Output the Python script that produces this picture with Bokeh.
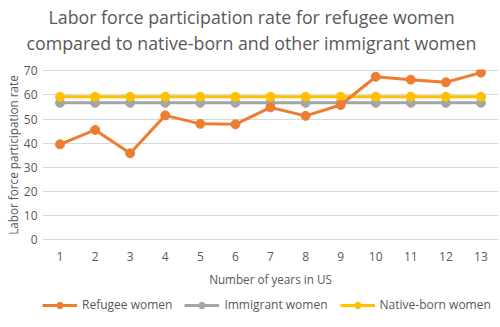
from bokeh.plotting import figure
from bokeh.models import Title, Legend, LegendItem, FixedTicker
from bokeh.layouts import column
from bokeh.embed import file_html
from bokeh.resources import INLINE

years = list(range(1, 14))
refugee = [39.5, 45.5, 35.8, 51.5, 48.0, 47.8, 54.8, 51.3, 55.8, 67.5, 66.3, 65.2, 69.2]
immigrant = [56.7] * 13
native = [59.2] * 13

title_lines = ["Labor force participation rate for refugee women",
               "compared to native-born and other immigrant women"]

FONT = "Open Sans"
TXT = "#595959"

p = figure(frame_width=456, frame_height=171, output_backend="svg", toolbar_location=None,
           x_range=(0.5, 13.5), y_range=(-0.3, 70.5),
           min_border_left=42, min_border_right=2, min_border_top=69, min_border_bottom=57)
p.outline_line_color = None

# spacer between title and plot frame
p.add_layout(Title(text=" ", text_font=FONT, text_font_size="9px", standoff=0), "above")
p.add_layout(Title(text=title_lines[1], align="left", text_font=FONT, text_font_size="17.8px",
                   text_color=TXT, text_font_style="normal", standoff=0, offset=-16), "above")
p.add_layout(Title(text=title_lines[0], align="left", text_font=FONT, text_font_size="17.8px",
                   text_color=TXT, text_font_style="normal", standoff=0, offset=6), "above")

p.xaxis.ticker = FixedTicker(ticks=years)
p.yaxis.ticker = FixedTicker(ticks=list(range(0, 71, 10)))
for ax in (p.xaxis, p.yaxis):
    ax.axis_line_color = None
    ax.major_tick_line_color = None
    ax.minor_tick_line_color = None
    ax.major_tick_out = 0
    ax.major_tick_in = 0
    ax.major_label_text_font = FONT
    ax.major_label_text_font_size = "12px"
    ax.major_label_text_color = TXT
    ax.axis_label_text_font = FONT
    ax.axis_label_text_font_size = "11.7px"
    ax.axis_label_text_color = TXT
    ax.axis_label_text_font_style = "normal"
p.xaxis.axis_label = "Number of years in US"
p.yaxis.axis_label = "Labor force participation rate"
p.xaxis.major_label_standoff = 11
p.xaxis.axis_label_standoff = 7
p.yaxis.major_label_standoff = 5
p.yaxis.axis_label_standoff = 0
p.xgrid.grid_line_color = None
p.ygrid.grid_line_color = "#d9d9d9"
p.ygrid.grid_line_width = 1

series = [
    ("Immigrant women", immigrant, "#A5A5A5"),
    ("Native-born women", native, "#FFC000"),
    ("Refugee women", refugee, "#ED7D31"),
]
data = {}
for name, vals, col in series:
    p.line(years, vals, line_color=col, line_width=3)
    p.scatter(years, vals, size=9, fill_color=col, line_color=col)
    data[name] = (vals, col)

# legend strip below the chart (its series renderers lie outside the visible range)
p2 = figure(width=500, height=30, output_backend="svg", toolbar_location=None,
            x_axis_type=None, y_axis_type=None, x_range=(100, 101), y_range=(0, 1),
            min_border_left=42, min_border_right=2, min_border_top=0, min_border_bottom=0)
p2.outline_line_color = None
p2.xgrid.grid_line_color = None
p2.ygrid.grid_line_color = None
leg_items = []
for name in ["Refugee women", "Immigrant women", "Native-born women"]:
    vals, col = data[name]
    l = p2.line(years, vals, line_color=col, line_width=3)
    s = p2.scatter(years, vals, size=9, fill_color=col, line_color=col)
    leg_items.append(LegendItem(label=name, renderers=[l, s]))

legend = Legend(items=leg_items, orientation="horizontal", location=(0, 14),
                label_text_font=FONT, label_text_font_size="12px", label_text_color=TXT,
                glyph_width=35, glyph_height=16, label_height=16, spacing=12,
                border_line_color=None, background_fill_alpha=0,
                padding=0, margin=0, label_standoff=5)
p2.add_layout(legend, "center")

layout = column(p, p2, spacing=0)
open("out.html", "w").write(file_html(layout, INLINE))
